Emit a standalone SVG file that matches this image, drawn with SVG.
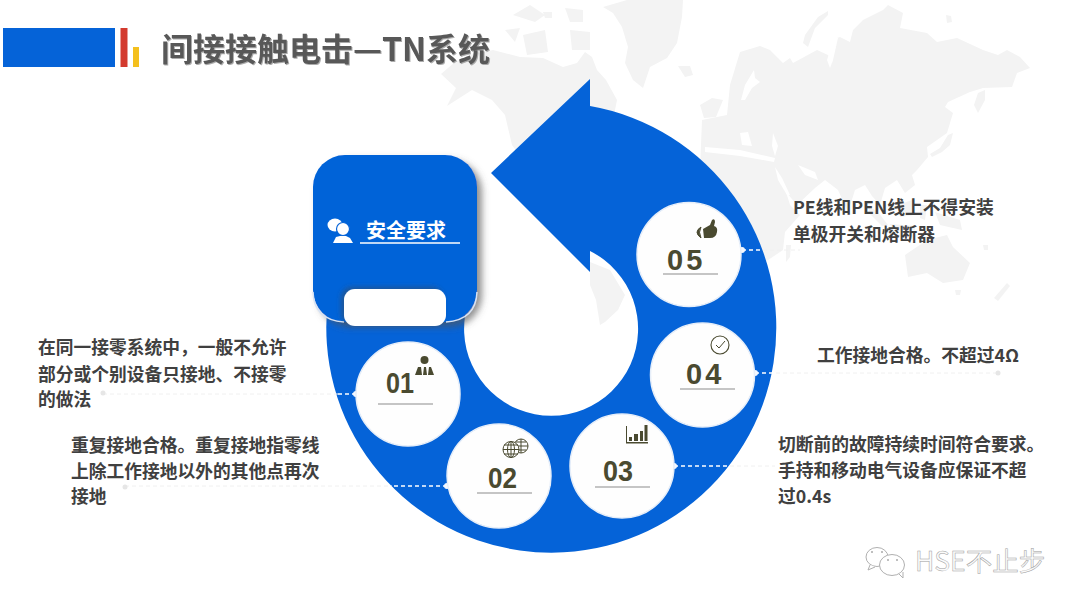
<svg xmlns="http://www.w3.org/2000/svg" width="1080" height="608" viewBox="0 0 1080 608">
<style>
.cjk{font-family:"Noto Sans CJK SC","Liberation Sans",sans-serif;font-weight:700}
.body{font-size:17.75px;fill:#404040}
.num{font-family:"Liberation Sans",Arial,sans-serif;font-weight:700;font-size:29px;fill:#4a4a30}
.land{fill:#f3f3f3}
.sea{fill:#fff}
.bub{fill:#fff;stroke:#b0b0b0;stroke-width:1}
.disc{fill:#fefefe;stroke:#e6eef9;stroke-width:1.500}
.rule{stroke:#8c8c8c;stroke-width:1}
.ink{fill:#4a4a30}
.inkl{fill:none;stroke:#4a4a30;stroke-width:1}
.inner{fill:none;stroke:#fff;stroke-width:1.300;stroke-dasharray:4 3}
.outer{fill:none;stroke:#f0f0f0;stroke-width:1;stroke-dasharray:4 3}
.dot{fill:#f4f8ff}
.far{fill:#e6e6e6}
</style>
<defs>
<filter id="shadow" x="-15%" y="-15%" width="130%" height="130%"><feDropShadow dx="5" dy="5" stdDeviation="3.500" flood-color="#555" flood-opacity="0.650"/></filter>
<filter id="notch" x="-15%" y="-30%" width="130%" height="160%"><feDropShadow dx="-3" dy="-2" stdDeviation="2.500" flood-color="#444" flood-opacity="0.450"/></filter>
<filter id="soft" x="-5%" y="-5%" width="110%" height="110%"><feGaussianBlur stdDeviation="0.700"/></filter>
<filter id="titleshadow" x="-5%" y="-20%" width="110%" height="140%"><feDropShadow dx="1" dy="1" stdDeviation="0.600" flood-color="#888" flood-opacity="0.700"/></filter>
</defs>
<rect width="1080" height="608" fill="#fff"/>
<g id="world-map" filter="url(#soft)">
<path class="land" d="M627 0L683 0L682 17L677 43L667 58L650 67L643 88L633 80L625 63L628 47L622 27L613 13L603 7Z"/>
<path class="land" d="M678 66L690 66L693 75L685 77Z"/>
<path class="land" d="M513 15L530 5L545 15L535 22Z"/>
<path class="land" d="M505 30L520 28L515 42Z"/>
<path class="land" d="M523 35L545 30L548 52L527 55Z"/>
<path class="land" d="M570 30L590 32L590 50L572 50Z"/>
<path class="land" d="M565 8L583 10L583 22L570 22Z"/>
<path class="land" d="M543 12L552 12L552 18L545 18Z"/>
<path class="land" d="M455 62L470 55L493 50L520 57L543 58L563 67L577 63L585 52L592 57L597 70L606 80L617 100L612 125L590 150L530 170L512 145L505 115L492 100L472 90L447 106L456 88L441 74Z"/>
<path class="land" d="M590 262L610 270L625 295L618 310L605 322L600 325L596 300L590 285Z"/>
<path class="land" d="M700 105L712 98L723 100L716 117L704 118Z"/>
<path class="land" d="M740 52L760 46L770 50L783 63L790 58L793 63L817 50L828 55L832 63L837 38L840 37L850 42L853 30L863 20L883 10L888 5L903 13L900 28L927 33L937 42L957 38L983 50L998 55L1007 50L1020 57L1030 68L1017 73L1012 87L983 88L970 92L948 102L945 107L953 113L950 123L947 133L937 140L927 147L928 157L917 170L912 175L915 185L905 193L897 180L885 188L880 205L872 196L865 185L855 190L848 212L838 190L825 180L815 188L797 205L786 192L790 205L800 215L785 232L783 250L765 262L750 270L720 250L700 170L702 120L727 115L730 85Z"/>
<path class="sea" d="M754 70L745 85L741 100L745 100L752 88L760 82L755 78Z"/>
<path class="sea" d="M705 147L740 150L775 158L774 162L740 156L705 152Z"/>
<path class="sea" d="M740 133L748 132L752 146L742 145Z"/>
<path class="sea" d="M773 133L778 146L775 156L772 146Z"/>
<path class="sea" d="M775 167L782 178L790 195L787 195L778 180Z"/>
<path class="sea" d="M798 165L815 172L818 180L805 175Z"/>
<path class="sea" d="M834 38L838 38L833 60L830 68L827 60Z"/>
<path class="land" d="M828 11L818 17L805 35L803 43L808 47L815 28L828 15Z"/>
<path class="land" d="M946 15L951 16L952 22L947 23Z"/>
<path class="land" d="M985 90L985 100L978 113L974 105L978 93Z"/>
<path class="land" d="M953 133L950 145L942 152L932 157L930 154L940 148L948 135Z"/>
<path class="land" d="M786 245L791 245L790 257L786 262Z"/>
<path class="land" d="M868 206L878 212L888 225L882 226L870 214Z"/>
<path class="land" d="M890 224L915 226L915 230L892 229Z"/>
<path class="land" d="M898 205L912 200L913 215L900 217Z"/>
<path class="land" d="M920 205L927 205L925 220L920 218Z"/>
<path class="land" d="M935 212L960 220L962 230L940 225Z"/>
<path class="land" d="M905 255L927 240L947 235L953 247L970 263L963 280L943 283L927 273L908 277Z"/>
<path class="land" d="M955 290L961 290L960 295L956 295Z"/>
<path class="land" d="M1007 283L1010 286L998 301L994 298Z"/>
<path class="land" d="M983 245L988 245L988 250L984 250Z"/>
</g>
<g id="title-bar">
<rect x="3" y="28" width="112" height="39" fill="#0563d8"/>
<rect x="120.500" y="28" width="7" height="39" fill="#d33a2e"/>
<rect x="133" y="47" width="6" height="20" fill="#f4c01e"/>
<text class="cjk" x="161" y="61" font-size="32" fill="#595959" filter="url(#titleshadow)">间接接触电击—TN系统</text>
</g>
<g id="arrow">
<path fill="#0563d8" d="M328 300A225 225 0 1 0 590 106L590 79L491 173L590 272L590 251A87 87 0 1 1 469 300Z"/>
</g>
<g id="connectors">
<path class="outer" d="M103 394H340M125 486H392M730 466H775M776 373H998M763 250H800"/>
<path class="inner" d="M356 394H338M447 486H392M674 466H730M755 373H776M742 250H763"/>
<circle class="dot" cx="356" cy="394" r="3"/><circle class="dot" cx="447" cy="486" r="3"/><circle class="dot" cx="674" cy="466" r="3"/><circle class="dot" cx="755" cy="373" r="3"/><circle class="dot" cx="742" cy="250" r="3"/>
<circle class="far" cx="103" cy="393" r="2.500"/><circle class="far" cx="125" cy="487" r="2.500"/><circle class="far" cx="998" cy="373" r="2.500"/>
</g>
<g id="card">
<rect x="313" y="155" width="164" height="167" rx="32" fill="#0563d8" filter="url(#shadow)"/>
<path d="M313 292Q314 320 344 322M446 322Q476 320 477 292" fill="none" stroke="#d5e3f6" stroke-width="1.500"/>
<rect x="344" y="289" width="102" height="37" rx="11" fill="#fff" filter="url(#notch)"/>
<g fill="#fff">
<ellipse cx="335" cy="225" rx="7.500" ry="6.500"/>
<circle cx="343" cy="229" r="6.500" stroke="#0563d8" stroke-width="1.200"/>
<path d="M333 243L336 237L340 236L346 236L350 238L353 243Z"/>
</g>
<text class="cjk" x="366" y="238" font-size="20" fill="#fff">安全要求</text>
<path d="M360 243H460" stroke="#fff" stroke-width="1.500"/>
</g>
<g id="node-01">
<circle class="disc" cx="408" cy="394" r="52"/>
<text class="num" x="386" y="393" textLength="28" lengthAdjust="spacingAndGlyphs">01</text>
<path class="rule" d="M378 404H433"/>
<circle class="ink" cx="424.500" cy="360" r="4"/>
<path class="ink" d="M415 375L418 367L421 367L422 375ZM424 367L426 367L427 375L423 375ZM429 367L431 367L434 375L428 375Z"/>
</g>
<g id="node-02">
<circle class="disc" cx="499" cy="476" r="52"/>
<text class="num" x="488" y="488" textLength="29" lengthAdjust="spacingAndGlyphs">02</text>
<path class="rule" d="M477 493H532"/>
<g class="inkl"><circle cx="521" cy="446" r="7"/><path d="M514 446H528M521 439V453M516 442H526M516 450H526"/>
<circle cx="511" cy="449.500" r="8" fill="#fff"/><ellipse cx="511" cy="449.500" rx="3.500" ry="8"/><path d="M503 449.500H519M504 445H518M504 454H518M511 441.500V457.500"/></g>
</g>
<g id="node-03">
<circle class="disc" cx="622" cy="466" r="52"/>
<text class="num" x="603" y="481" textLength="30" lengthAdjust="spacingAndGlyphs">03</text>
<path class="rule" d="M595 487H650"/>
<path class="ink" d="M626 426H627V442H648V443.500H626ZM629 437H632V441H629ZM634 434H638V441H634ZM640 431H643V441H640ZM644.500 425H647.500V441H644.500Z"/>
</g>
<g id="node-04">
<circle class="disc" cx="702.500" cy="375" r="52"/>
<text class="num" x="686" y="384" letter-spacing="3">04</text>
<path class="rule" d="M680 389H735"/>
<circle cx="720" cy="345" r="9" fill="#fff" stroke="#4a4a30" stroke-width="1.100"/>
<path class="inkl" d="M716 345L719 348L725 341"/>
</g>
<g id="node-05">
<circle class="disc" cx="689" cy="254.500" r="52"/>
<text class="num" x="667" y="270" letter-spacing="3">05</text>
<path class="rule" d="M663 274H718" stroke-width="1.300"/>
<path class="ink" d="M703 229L710 225L712 220Q715 218 715 222L714 226Q718 227 717 232Q716 238 710 238L704 238Z"/>
<path class="ink" d="M701 227Q693 232 701 238Q698 232 701 227Z" stroke="#4a4a30" stroke-width="1"/>
</g>
<g id="label-01" class="cjk body"><text x="38" y="354">在同一接零系统中，一般不允许</text><text x="38" y="381">部分或个别设备只接地、不接零</text><text x="38" y="406">的做法</text></g>
<g id="label-02" class="cjk body"><text x="71" y="452">重复接地合格。重复接地指零线</text><text x="71" y="478">上除工作接地以外的其他点再次</text><text x="71" y="503">接地</text></g>
<g id="label-03" class="cjk body"><text x="778" y="451">切断前的故障持续时间符合要求。</text><text x="778" y="477">手持和移动电气设备应保证不超</text><text x="778" y="503">过0.4s</text></g>
<g id="label-04" class="cjk body"><text x="817" y="362">工作接地合格。不超过4Ω</text></g>
<g id="label-05" class="cjk body"><text x="793" y="214">PE线和PEN线上不得安装</text><text x="793" y="241">单极开关和熔断器</text></g>
<g id="watermark">
<ellipse class="bub" cx="877" cy="557" rx="11" ry="9.500"/>
<ellipse class="bub" cx="892" cy="565" rx="12.500" ry="10.500"/>
<path class="bub" d="M899 574L903 578L903 572"/>
<path class="bub" d="M870 565L868 570L875 567"/>
<circle cx="872" cy="552" r="1" fill="#aaa"/><circle cx="882" cy="552" r="1" fill="#aaa"/><circle cx="888" cy="560" r="1" fill="#aaa"/><circle cx="897" cy="560" r="1" fill="#aaa"/>
<text x="915" y="571" font-size="26.500" font-family="'Noto Sans CJK SC','Liberation Sans',sans-serif" fill="#fbfbfb" stroke="#a0a0a0" stroke-width="0.500">HSE不止步</text>
</g>
</svg>
